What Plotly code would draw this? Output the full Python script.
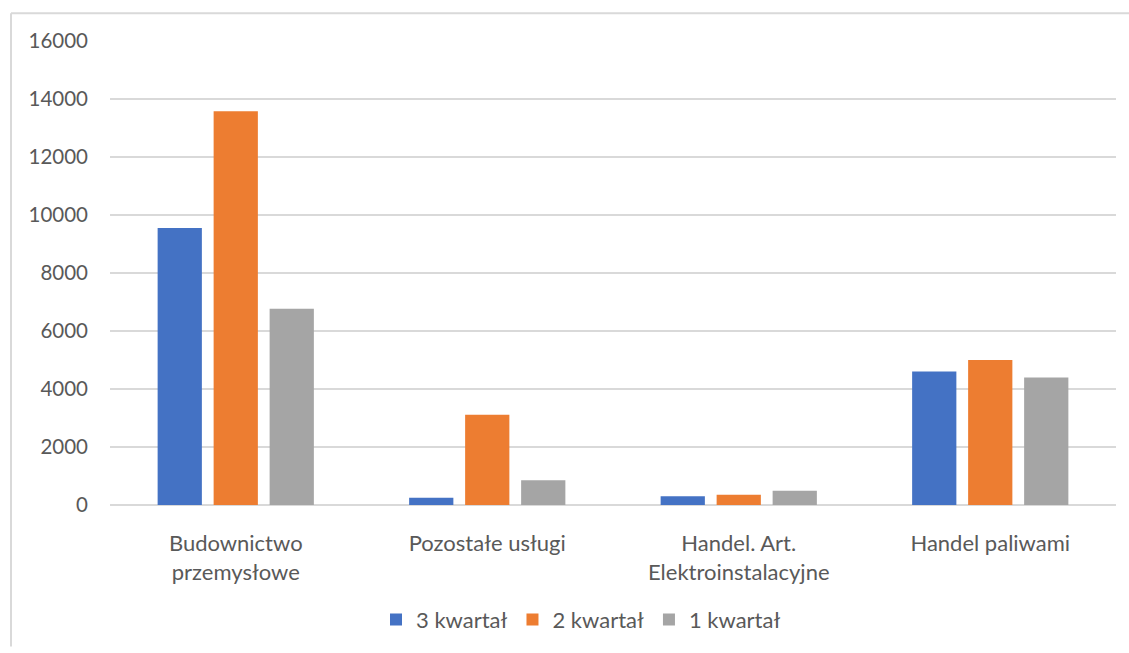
import plotly.graph_objects as go

categories = ["Budownictwo<br>przemysłowe", "Pozostałe usługi", "Handel. Art.<br>Elektroinstalacyjne", "Handel paliwami"]
series_names = ["3 kwartał", "2 kwartał", "1 kwartał"]
q3 = [9550, 250, 300, 4600]
q2 = [13580, 3110, 350, 5000]
q1 = [6770, 850, 490, 4400]
colors = ["#4472C4", "#ED7D31", "#A5A5A5"]
y_ticks = [0, 2000, 4000, 6000, 8000, 10000, 12000, 14000, 16000]

W, H = 1129, 653
ml, mr, mt, mb = 110, 13, 41, 143
pw, ph = W - ml - mr, H - mt - mb

def px_x(px):
    return (px - ml) / pw

def px_y(py):
    return (H - mb - py) / ph

fig = go.Figure()
for name, vals, col in zip(series_names, [q3, q2, q1], colors):
    fig.add_trace(go.Bar(name=name, x=categories, y=vals, marker=dict(color=col, line=dict(width=0))))

font_family = "Lato, 'Open Sans', sans-serif"
text_color = "#595959"
grid_color = "#D9D9D9"

fig.update_layout(
    width=W, height=H,
    margin=dict(l=ml, r=mr, t=mt, b=mb),
    paper_bgcolor="white", plot_bgcolor="white",
    barmode="group", bargap=0.332, bargroupgap=0.21,
    font=dict(family=font_family, size=20, color=text_color),
    showlegend=True,
    legend=dict(orientation="h", x=px_x(581), xanchor="center", y=px_y(626), yanchor="middle",
                font=dict(size=22, color=text_color), traceorder="normal",
                itemclick=False),
    xaxis=dict(showgrid=False, showline=False, zeroline=False, ticks="",
               tickfont=dict(size=22, color=text_color), ticklabelstandoff=23),
    yaxis=dict(range=[0, 16000], tickvals=y_ticks, ticktext=[str(v) for v in y_ticks],
               showgrid=True, gridcolor=grid_color, gridwidth=2,
               zeroline=True, zerolinecolor=grid_color, zerolinewidth=2,
               showline=False, ticks="", tickfont=dict(size=20.5, color=text_color),
               ticklabelstandoff=21),
    shapes=[
        dict(type="line", xref="paper", yref="paper", x0=px_x(11), x1=px_x(1129), y0=px_y(13), y1=px_y(13),
             line=dict(color=grid_color, width=2)),
        dict(type="line", xref="paper", yref="paper", x0=px_x(11), x1=px_x(11), y0=px_y(13), y1=px_y(653),
             line=dict(color=grid_color, width=2)),
    ],
)

fig.write_html(
    "out.html",
    config={"displayModeBar": False},
    post_script="document.body.style.margin='0';document.body.style.overflow='hidden';",
)
